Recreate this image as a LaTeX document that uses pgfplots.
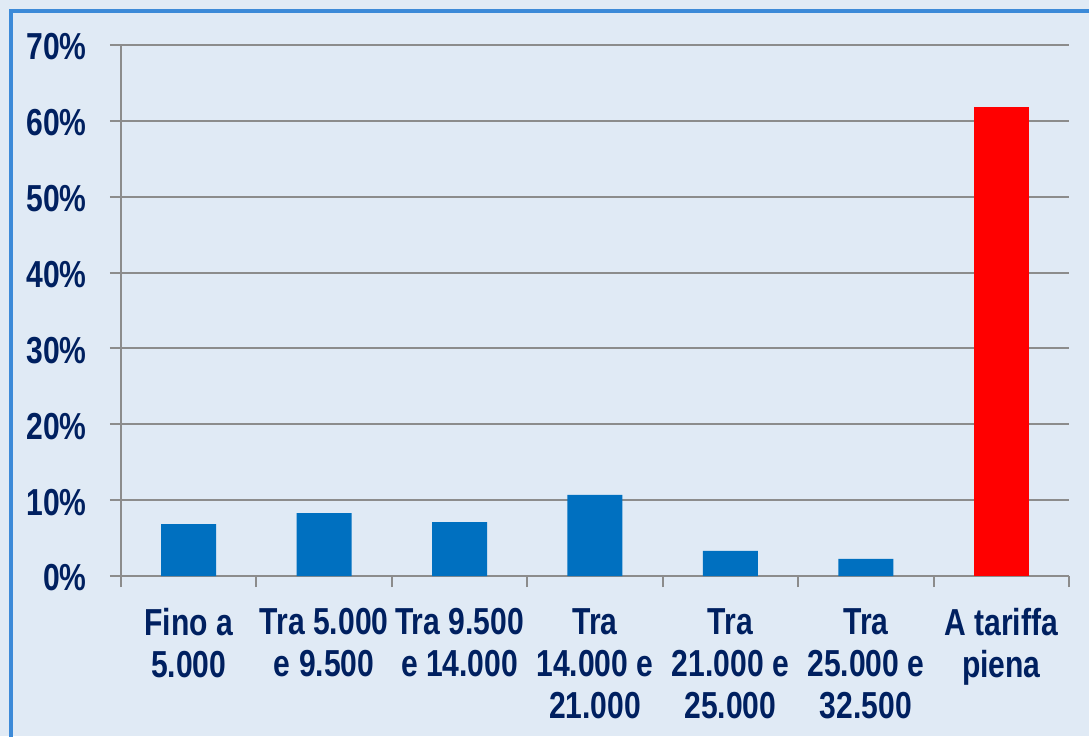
\documentclass[border=0pt]{standalone}
\usepackage{fontspec}
\setmainfont[FakeStretch=0.8]{Liberation Sans}
\usepackage{pgfplots}
\pgfplotsset{compat=1.18}
\definecolor{bgblue}{HTML}{E0EAF5}
\definecolor{frameblue}{HTML}{3C8AD8}
\definecolor{navy}{HTML}{002060}
\definecolor{barblue}{HTML}{0070C0}
\definecolor{gridgray}{HTML}{8C8C8C}
\begin{document}
\begin{tikzpicture}[x=1pt,y=1pt]
\clip (0,0) rectangle (544.5,368);
\fill[bgblue] (0,0) rectangle (544.5,368);
\draw[frameblue, line width=1.8pt] (5.5,-10) -- (5.5,362.5) -- (560,362.5);
\begin{axis}[
  at={(60.5pt,80pt)}, anchor=south west,
  scale only axis, width=474pt, height=265.5pt,
  xmin=-0.5, xmax=6.5, ymin=0, ymax=70,
  axis x line=bottom, axis y line=left,
  axis line style={gridgray, line width=1pt, -},
  ymajorgrids, grid style={gridgray, line width=1pt},
  tick align=outside,
  tick style={gridgray, line width=1pt},
  ytick={0,10,...,70},
  yticklabels={0\%,10\%,20\%,30\%,40\%,50\%,60\%,70\%},
  major tick length=5.5pt,
  xtick={-0.5,0.5,...,6.5},
  xticklabels={{Fino a\\5.000},{Tra 5.000\\e 9.500},{Tra 9.500\\e 14.000},{Tra\\14.000 e\\21.000},{Tra\\21.000 e\\25.000},{Tra\\25.000 e\\32.500},{A tariffa\\piena},{}},
  tick label style={font=\fontsize{18.8}{21}\selectfont\bfseries, text=navy},
  xticklabel style={align=center, anchor=north, inner sep=0pt, yshift=-10.5pt, xshift=33.86pt},
  yticklabel style={anchor=east, inner sep=0pt, xshift=-11.5pt, yshift=-1pt},
  ybar, bar width=27.5pt,
]
\addplot[fill=barblue, draw=none, bar shift=0pt] coordinates {(0,6.85) (1,8.3) (2,7.1) (3,10.7) (4,3.3) (5,2.25)};
\addplot[fill=red, draw=none, bar shift=0pt] coordinates {(6,61.8)};
\end{axis}
\end{tikzpicture}
\end{document}
